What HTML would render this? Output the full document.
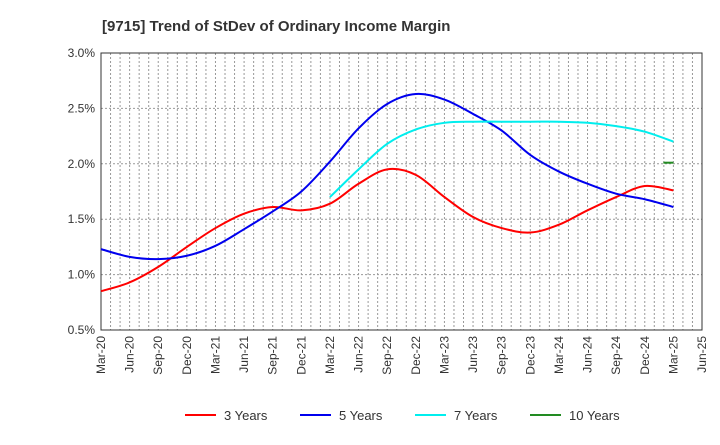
<!DOCTYPE html>
<html><head><meta charset="utf-8"><style>
body{margin:0;background:#fff;font-family:"Liberation Sans",sans-serif}
svg text{font-family:"Liberation Sans",sans-serif}
</style></head><body>
<svg id="chart" width="720" height="440">
<text x="102" y="31" font-size="15" font-weight="bold" fill="#333">[9715]  Trend of StDev of Ordinary Income Margin</text>
<g id="grid"></g><g id="axes"></g><g id="series"></g><g id="legend"></g>
</svg>
<script>
const xLabels=["Mar-20","Jun-20","Sep-20","Dec-20","Mar-21","Jun-21","Sep-21","Dec-21","Mar-22","Jun-22","Sep-22","Dec-22","Mar-23","Jun-23","Sep-23","Dec-23","Mar-24","Jun-24","Sep-24","Dec-24","Mar-25","Jun-25"];
const yTicks=[0.5,1.0,1.5,2.0,2.5,3.0];
const s3=[0.85,0.93,1.07,1.25,1.42,1.55,1.61,1.58,1.64,1.82,1.95,1.90,1.70,1.52,1.42,1.38,1.45,1.58,1.70,1.80,1.76];
const s5=[1.23,1.16,1.14,1.17,1.26,1.41,1.57,1.75,2.02,2.32,2.54,2.63,2.58,2.45,2.30,2.08,1.93,1.82,1.73,1.68,1.61];
const s7=[null,null,null,null,null,null,null,null,1.70,1.95,2.18,2.31,2.37,2.38,2.38,2.38,2.38,2.37,2.34,2.29,2.20];
const s10=[null,null,null,null,null,null,null,null,null,null,null,null,null,null,null,null,null,null,null,null,2.01];
const L=101,R=702,T=53,B=330;
const X=i=>L+i*(R-L)/21;
const Y=v=>T+(3.0-v)/2.5*(B-T);
const NS="http://www.w3.org/2000/svg";
function mk(p,tag,a){const e=document.createElementNS(NS,tag);for(const k in a)e.setAttribute(k,a[k]);p.appendChild(e);return e;}
const grid=document.getElementById('grid'),axes=document.getElementById('axes'),ser=document.getElementById('series'),leg=document.getElementById('legend');
for(let m=1;m<63;m++){const x=L+m*(R-L)/63;
const g=mk(grid,'line',{x1:x,x2:x,y1:T,y2:B,stroke:'#999','stroke-dasharray':'2,2','stroke-width':1});

}
yTicks.forEach(v=>{const y=Y(v);
const g=mk(grid,'line',{x1:L,x2:R,y1:y,y2:y,stroke:'#999','stroke-dasharray':'2,2','stroke-width':1});


const t=mk(axes,'text',{x:L-6,y:y+4,'text-anchor':'end','font-size':12,fill:'#333'});t.textContent=v.toFixed(1)+'%';

});
const fr=mk(axes,'rect',{x:L,y:T,width:R-L,height:B-T,fill:'none',stroke:'#333','stroke-width':1});


xLabels.forEach((s,i)=>{const x=X(i);
const t=mk(axes,'text',{x:x+4,y:B+6,'text-anchor':'end','font-size':12,fill:'#333',transform:`rotate(-90 ${x+4} ${B+6})`});t.textContent=s;

});
function path(arr){const pts=[];arr.forEach((v,i)=>{if(v!=null)pts.push([X(i),Y(v)]);});
if(pts.length<2)return '';let d=`M${pts[0][0]},${pts[0][1]}`;
for(let i=0;i<pts.length-1;i++){const p0=pts[i-1]||pts[i],p1=pts[i],p2=pts[i+1],p3=pts[i+2]||p2;
d+=` C${p1[0]+(p2[0]-p0[0])/6},${p1[1]+(p2[1]-p0[1])/6} ${p2[0]-(p3[0]-p1[0])/6},${p2[1]-(p3[1]-p1[1])/6} ${p2[0]},${p2[1]}`;}return d;}
[[s3,'#ff0000','series-3-years'],[s5,'#0000ee','series-5-years'],[s7,'#00eeee','series-7-years']].forEach(([a,c,n])=>{
const p=mk(ser,'path',{d:path(a),fill:'none',stroke:c,'stroke-width':2});

});
s10.forEach((v,i)=>{if(v!=null){const p=mk(ser,'line',{x1:X(i)-10,x2:X(i),y1:Y(v),y2:Y(v),stroke:'#228b22','stroke-width':2});

}});
[['3 Years','#ff0000',185],['5 Years','#0000ee',300],['7 Years','#00eeee',415],['10 Years','#228b22',530]].forEach(([s,c,x])=>{
const g=mk(leg,'g',{});


mk(g,'line',{x1:x,x2:x+31,y1:415,y2:415,stroke:c,'stroke-width':2});
const t=mk(g,'text',{x:x+39,y:420,'font-size':13,fill:'#333'});t.textContent=s;});
</script>
</body></html>
